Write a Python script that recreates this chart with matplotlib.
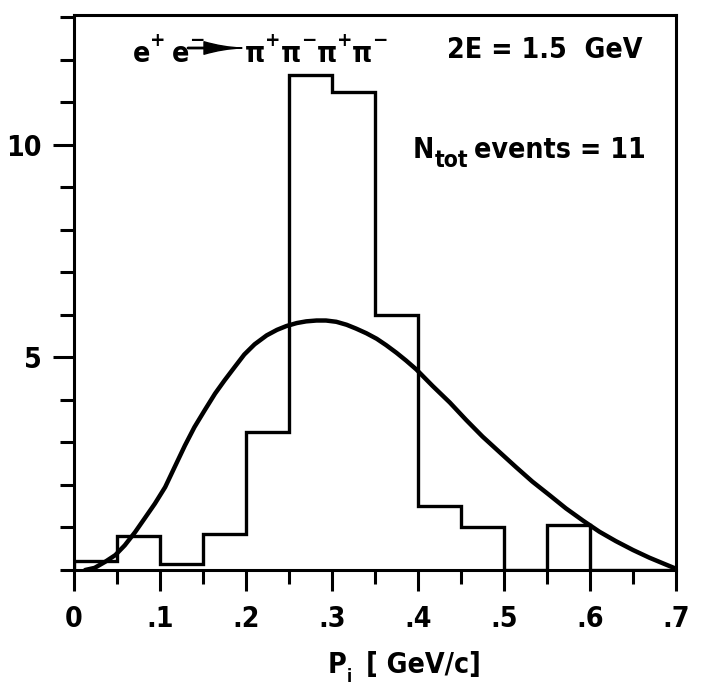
import os
import matplotlib
matplotlib.use('Agg')
import matplotlib.pyplot as plt
from matplotlib import font_manager
from matplotlib.font_manager import FontProperties
from matplotlib.ticker import MultipleLocator

# Histogramm: Bins je 0.05 GeV/c
bin_edges = [0.0, 0.05, 0.10, 0.15, 0.20, 0.25, 0.30, 0.35, 0.40,
             0.45, 0.50, 0.55, 0.60, 0.65, 0.70]
counts = [0.2, 0.8, 0.15, 0.85, 3.25, 11.65, 11.25, 6.0, 1.5,
          1.0, 0.0, 1.05, 0.0, 0.0]

curve_p = [0.013, 0.024, 0.036, 0.048, 0.059, 0.071, 0.082, 0.094, 0.106,
           0.117, 0.129, 0.140, 0.152, 0.164, 0.175, 0.187, 0.198, 0.210,
           0.224, 0.236, 0.247, 0.259, 0.270, 0.282, 0.293, 0.305, 0.317,
           0.328, 0.340, 0.352, 0.363, 0.375, 0.386, 0.398, 0.417, 0.437,
           0.456, 0.475, 0.495, 0.514, 0.533, 0.553, 0.572, 0.592, 0.611,
           0.630, 0.650, 0.669, 0.688, 0.700]
curve_n = [0.0, 0.05, 0.19, 0.35, 0.58, 0.89, 1.21, 1.56, 1.95,
           2.42, 2.93, 3.36, 3.76, 4.15, 4.46, 4.78, 5.07, 5.31,
           5.52, 5.65, 5.74, 5.81, 5.85, 5.87, 5.87, 5.84, 5.77,
           5.68, 5.57, 5.44, 5.29, 5.11, 4.93, 4.72, 4.33, 3.94,
           3.53, 3.14, 2.77, 2.42, 2.08, 1.76, 1.45, 1.16, 0.90,
           0.68, 0.47, 0.29, 0.13, 0.03]

x_ticks = [0, 0.1, 0.2, 0.3, 0.4, 0.5, 0.6, 0.7]
x_labels = ['0', '.1', '.2', '.3', '.4', '.5', '.6', '.7']
y_ticks = [5, 10]
y_labels = ['5', '10']

W, H = 702, 686


def weight_num(w):
    if isinstance(w, (int, float)):
        return w
    return font_manager.weight_dict.get(w, 400)


def pick_font():
    # schmale, fette Schrift bevorzugen
    narrow = ('condensed', 'semi-condensed', 'extra-condensed',
              'ultra-condensed')
    order = ['Liberation Sans Narrow', 'DejaVu Sans', 'Roboto', 'Noto Sans',
             'Open Sans', 'Lato', 'Inter']
    found = []
    for f in font_manager.fontManager.ttflist:
        if f.style != 'normal' or weight_num(f.weight) < 600:
            continue
        base = os.path.basename(f.fname)
        cond = (f.stretch in narrow or 'Narrow' in f.name
                or 'Condensed' in f.name or 'Condensed' in base
                or 'Narrow' in base)
        if not cond:
            continue
        rank = len(order)
        for i, name in enumerate(order):
            if f.name.startswith(name):
                rank = i
                break
        found.append((rank, weight_num(f.weight), f.fname))
    if found:
        found.sort()
        return FontProperties(fname=found[0][2])
    return FontProperties(family='Roboto', weight='bold')


fp = pick_font()

fig = plt.figure(figsize=(W / 100, H / 100), dpi=100)
ax = fig.add_axes([74 / W, 1 - 570 / H, 602 / W, 555.5 / H])
renderer = fig.canvas.get_renderer()

# Schriftgroesse aus der Breite von "2E = 1.5  GeV" ableiten
probe = fig.text(0, 0, '2E = 1.5  GeV', fontproperties=fp, size=25)
size = min(25, 25 * 196 / probe.get_window_extent(renderer).width)
probe.remove()
em = size * 100 / 72

ax.stairs(counts, bin_edges, baseline=0, color='black', lw=2.4)
ax.plot(curve_p, curve_n, color='black', lw=3.2, solid_joinstyle='round',
        solid_capstyle='round')

ax.set_xlim(0, 0.7)
ax.set_ylim(0, 13.07)

ax.set_xticks(x_ticks)
ax.set_xticklabels(x_labels)
ax.xaxis.set_minor_locator(MultipleLocator(0.05))
ax.set_yticks(y_ticks)
ax.set_yticklabels(y_labels)
ax.yaxis.set_minor_locator(MultipleLocator(1))
for lbl in ax.get_xticklabels() + ax.get_yticklabels():
    lbl.set_fontproperties(fp)
    lbl.set_size(size)

for s in ax.spines.values():
    s.set_linewidth(2.2)

ax.tick_params(axis='x', which='major', direction='out', length=15,
               width=2.2, pad=10)
ax.tick_params(axis='y', which='major', direction='out', length=15,
               width=2.2, pad=8)
ax.tick_params(axis='both', which='minor', direction='out', length=10,
               width=2.2)
ax.tick_params(right=False, top=False, which='both')


def put_pieces(x, y, pieces):
    # x links, y Grundlinie, beides in Pixeln von oben links
    for s, kind in pieces:
        if kind == 'gap':
            x += s
            continue
        if kind == 'sup':
            fs, dy = size * 0.72, -0.55 * em
        elif kind == 'sub':
            fs, dy = size * 0.8, 0.3 * em
        elif kind == 'subs':
            fs, dy = size * 0.6, 0.3 * em
        else:
            fs, dy = size, 0
        t = fig.text(x / W, 1 - (y + dy) / H, s, fontproperties=fp, size=fs,
                     ha='left', va='baseline')
        x += t.get_window_extent(renderer).width
    return x


put_pieces(133, 62, [('e', ''), ('+', 'sup'), (6, 'gap'),
                     ('e', ''), ('\u2212', 'sup')])
put_pieces(245, 62, [('\u03c0', ''), ('+', 'sup'), ('\u03c0', ''),
                     ('\u2212', 'sup'), ('\u03c0', ''), ('+', 'sup'),
                     ('\u03c0', ''), ('\u2212', 'sup')])

# Pfeil: duenne Linie und keilfoermige Spitze
ax.annotate('', xy=(210 / W, 1 - 48 / H), xytext=(188 / W, 1 - 48 / H),
            xycoords='figure fraction', textcoords='figure fraction',
            arrowprops=dict(arrowstyle='-', lw=2, color='black',
                            shrinkA=0, shrinkB=0))
ax.annotate('', xy=(242 / W, 1 - 48 / H), xytext=(204 / W, 1 - 48 / H),
            xycoords='figure fraction', textcoords='figure fraction',
            arrowprops=dict(arrowstyle='wedge,tail_width=0.75,shrink_factor=0.3',
                            mutation_scale=12, fc='black', ec='black', lw=1,
                            capstyle='round', shrinkA=0, shrinkB=0))

put_pieces(447, 58, [('2E = 1.5  GeV', '')])
put_pieces(413, 158, [('N', ''), ('tot', 'sub'), (6, 'gap'),
                      ('events = 11', '')])

# Achsenbeschriftung
put_pieces(328, 673, [('P', ''), ('i', 'subs'), (14, 'gap'),
                      ('[ GeV/c]', '')])

fig.savefig('out.png', dpi=100)
